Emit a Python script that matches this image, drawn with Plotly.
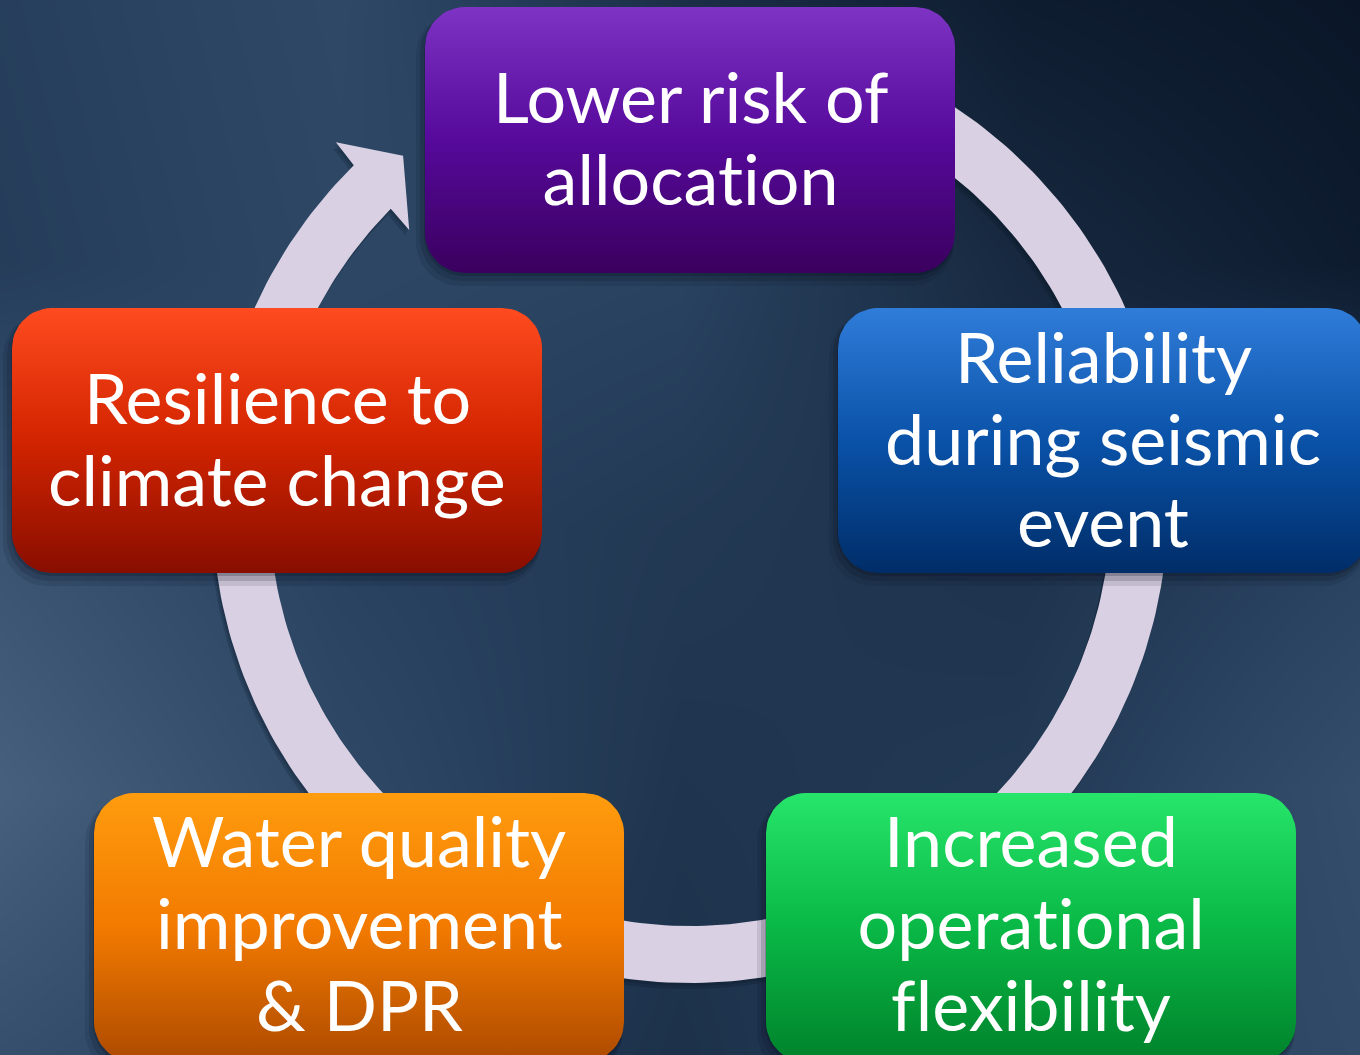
import numpy as np
import plotly.graph_objects as go

# ---- content ----
box_labels = [
    ["Lower risk of", "allocation"],
    ["Reliability", "during seismic", "event"],
    ["Increased", "operational", "flexibility"],
    ["Water quality", "improvement", "& DPR"],
    ["Resilience to", "climate change"],
]
box_top_colors = ["#7d33c3", "#2f7cd9", "#27e56a", "#ff9c0e", "#ff4b1f"]
box_mid_colors = ["#56099b", "#0a52a8", "#09b846", "#f27a00", "#d22400"]
box_bot_colors = ["#3a005e", "#002d68", "#00822b", "#ad4a00", "#880e00"]

# ---- layout geometry (pixels) ----
W, H = 1360, 1055
boxes = [(425, 7, 955, 273), (838, 308, 1368, 573), (766, 793, 1296, 1062),
         (94, 793, 624, 1062), (12, 308, 542, 573)]
CX, CY, R_OUT, R_IN = 690, 505, 478, 421
RING = "#d9d1e3"
FONT = "Lato"
FS = 70
PITCH = 82


def rrect(x0, y0, x1, y1, r, n=14):
    xs, ys = [], []
    for (cx, cy, a0) in [(x0 + r, y0 + r, 180), (x1 - r, y0 + r, 270),
                         (x1 - r, y1 - r, 0), (x0 + r, y1 - r, 90)]:
        a = np.radians(np.linspace(a0, a0 + 90, n))
        xs += list(cx + r * np.cos(a))
        ys += list(cy + r * np.sin(a))
    xs.append(xs[0]); ys.append(ys[0])
    return xs, ys


def polar(r, deg):
    t = np.radians(deg)
    return CX + r * np.cos(t), CY - r * np.sin(t)


fig = go.Figure()

# background
bg_z = [[0.40, 0.50, 0.24, 0.06, 0.00],
        [0.38, 0.48, 0.44, 0.18, 0.05],
        [0.62, 0.42, 0.34, 0.28, 0.42],
        [0.78, 0.50, 0.30, 0.34, 0.56],
        [0.58, 0.40, 0.26, 0.40, 0.52]]
fig.add_trace(go.Heatmap(
    x=[0, 340, 680, 1020, 1360], y=[0, 264, 528, 791, 1055], z=bg_z,
    zsmooth="best", showscale=False, hoverinfo="skip", zmin=0, zmax=1,
    colorscale=[[0, "#0a1628"], [0.45, "#2a4462"], [1, "#587290"]]))

# circular arrow
th_out = np.linspace(134.7, 465, 300)
th_in = np.linspace(465, 135.3, 300)
ax, ay = polar(R_OUT, th_out)
bx, by = polar(R_IN, th_in)
head = [polar(393, 135.6), polar(452, 129.4), polar(507, 134.3)]
px = list(ax) + list(bx) + [p[0] for p in head] + [ax[0]]
py = list(ay) + list(by) + [p[1] for p in head] + [ay[0]]
for dx, dy, a in [(-3, 6, 0.18), (-1.5, 3, 0.18)]:
    fig.add_trace(go.Scatter(x=[v + dx for v in px], y=[v + dy for v in py],
                             fill="toself", fillcolor=f"rgba(5,15,30,{a})",
                             line=dict(width=0), mode="lines", hoverinfo="skip"))
fig.add_trace(go.Scatter(x=px, y=py, fill="toself", fillcolor=RING,
                         line=dict(width=0), mode="lines", hoverinfo="skip"))

# boxes
for i, (x0, y0, x1, y1) in enumerate(boxes):
    for dx, dy, g, a in [(-5, 9, 4, 0.10), (-3, 6, 2, 0.16), (-1, 3, 0, 0.2)]:
        sx, sy = rrect(x0 - g + dx, y0 - g + dy, x1 + g + dx, y1 + g + dy, 40 + g)
        fig.add_trace(go.Scatter(x=sx, y=sy, fill="toself",
                                 fillcolor=f"rgba(5,12,25,{a})",
                                 line=dict(width=0), mode="lines", hoverinfo="skip"))
    xs, ys = rrect(x0, y0, x1, y1, 40)
    fig.add_trace(go.Scatter(
        x=xs, y=ys, fill="toself", mode="lines", line=dict(width=0),
        fillgradient=dict(type="vertical", start=y0, stop=y1,
                          colorscale=[[0, box_top_colors[i]],
                                      [0.5, box_mid_colors[i]],
                                      [1, box_bot_colors[i]]]),
        hoverinfo="skip"))
    cxm = (x0 + x1) / 2
    cym = (y0 + min(y1, 1057)) / 2
    lines = box_labels[i]
    n = len(lines)
    for k, t in enumerate(lines):
        yy = cym + (k - (n - 1) / 2) * PITCH - 3
        fig.add_annotation(x=cxm, y=yy, text=t, showarrow=False,
                           xanchor="center", yanchor="middle",
                           font=dict(family=FONT, size=FS, color="white"))

fig.update_layout(
    width=W, height=H, margin=dict(l=0, r=0, t=0, b=0),
    paper_bgcolor="#2a4360", plot_bgcolor="#2a4360", showlegend=False,
    xaxis=dict(range=[0, W], visible=False, fixedrange=True),
    yaxis=dict(range=[H, 0], visible=False, fixedrange=True),
)
page_js = (
    "document.body.style.margin='0';"
    "document.body.style.overflow='hidden';"
    "var s=document.createElement('style');"
    "s.textContent='text{font-variant-ligatures:none;font-feature-settings:\"liga\" 0;}';"
    "document.head.appendChild(s);"
)
fig.write_html("out.html", config={"displayModeBar": False}, post_script=page_js)
